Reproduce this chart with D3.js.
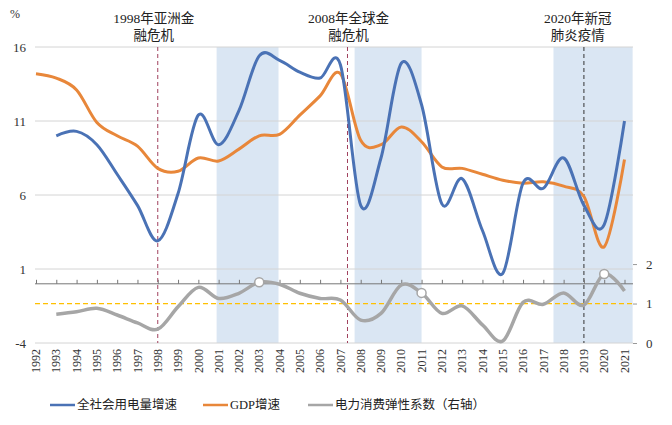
<!DOCTYPE html>
<html><head><meta charset="utf-8">
<script src="https://cdn.jsdelivr.net/npm/d3@7"></script>
<style>html,body{margin:0;padding:0;background:#fff;}svg{display:block;}</style>
</head><body>
<svg id="chart" width="672" height="425"></svg>
<script>
const years = [1992,1993,1994,1995,1996,1997,1998,1999,2000,2001,2002,2003,2004,2005,2006,2007,2008,2009,2010,2011,2012,2013,2014,2015,2016,2017,2018,2019,2020,2021];
const yearLabels = years.map(String);
const electricityGrowth = [null,10.0,10.3,9.4,7.4,5.3,2.9,6.1,11.4,9.4,11.7,15.4,15.1,14.3,13.9,14.8,5.3,8.5,14.9,12.1,5.4,7.1,3.6,0.7,6.8,6.45,8.5,5.3,4.0,11.0];
const gdpGrowth = [14.2,13.9,13.1,10.9,10.0,9.3,7.8,7.6,8.5,8.3,9.1,10.0,10.1,11.4,12.7,14.2,9.7,9.4,10.6,9.6,7.9,7.8,7.4,7.0,6.8,6.9,6.6,5.9,2.5,8.4];
const elasticity = [null,0.73,0.79,0.88,0.71,0.51,0.35,0.92,1.41,1.13,1.26,1.54,1.49,1.26,1.13,1.09,0.58,0.75,1.47,1.27,0.75,0.94,0.46,0.05,1.03,0.98,1.27,0.96,1.75,1.32];
const markerYears = [2003,2011,2020];
const bands = [[2000.9,2003.95],[2007.7,2011],[2017.5,2021.4]];
const crisisLines = [{year:1998,color:"#A0405E"},{year:2007.35,color:"#A0405E"},{year:2019,color:"#333333"}];
const annotations = [
  {x:1997.8, lines:["1998年亚洲金","融危机"]},
  {x:2007.4, lines:["2008年全球金","融危机"]},
  {x:2018.7, lines:["2020年新冠","肺炎疫情"]}
];
const leftTicks = [16,11,6,1,-4];
const rightTicks = [0,1,2];
const legendItems = [
  {label:"全社会用电量增速", color:"#4A72B5", x:50},
  {label:"GDP增速", color:"#E8873A", x:203},
  {label:"电力消费弹性系数（右轴）", color:"#A6A6A6", x:308}
];

const svg = d3.select("#chart");
const L = 35, R = 633, T = 47, B = 343;
const x = d3.scaleLinear().domain([1992,2021]).range([36,624.5]);
const yL = d3.scaleLinear().domain([-4,16]).range([B,T]);
const yR = d3.scaleLinear().domain([0,7.5]).range([B,T]);
const serif = "'Liberation Serif','Times New Roman','Noto Sans CJK SC',serif";

// bands
svg.append("g").selectAll("rect").data(bands).join("rect")
  .attr("x", d => x(d[0])).attr("width", d => Math.min(R, x(d[1])) - x(d[0]))
  .attr("y", T).attr("height", B - T).attr("fill", "#DAE6F3");

// gridlines
svg.append("g").selectAll("line").data(leftTicks).join("line")
  .attr("x1", L).attr("x2", R).attr("y1", d => yL(d)).attr("y2", d => yL(d))
  .attr("stroke", "#D4D4D4").attr("stroke-width", 1);

// left labels
svg.append("g").selectAll("text").data(leftTicks).join("text")
  .attr("x", 26).attr("y", d => yL(d)).attr("dy", "0.35em")
  .attr("text-anchor", "end").attr("font-family", serif).attr("font-size", 13).attr("fill", "#333")
  .text(d => d);
svg.append("text").attr("x", 15).attr("y", 14).attr("dy","0.35em").attr("text-anchor","middle")
  .attr("font-family", serif).attr("font-size", 12).attr("fill","#333").text("%");

// right axis
const rAxis = svg.append("g").attr("transform", `translate(${R},0)`)
  .call(d3.axisRight(yR).tickValues(rightTicks).tickSize(4).tickPadding(9).tickFormat(d3.format("d")));
rAxis.select(".domain").remove();
rAxis.selectAll("line").attr("stroke", "#999");
rAxis.selectAll("text").attr("font-family", serif).attr("font-size", 13).attr("fill", "#333");

// crisis dashed lines
svg.append("g").selectAll("line").data(crisisLines).join("line")
  .attr("x1", d => x(d.year)).attr("x2", d => x(d.year)).attr("y1", T).attr("y2", B)
  .attr("stroke", d => d.color).attr("stroke-width", 1).attr("stroke-dasharray", "4,3");

// x axis line at 0 with ticks
const xAxis = svg.append("g").attr("transform", `translate(0,${yL(0)})`)
  .call(d3.axisTop(x).tickValues(years).tickSize(4).tickFormat(""));
xAxis.select(".domain").attr("d", `M${L},0H${R}`).attr("stroke", "#777");
xAxis.selectAll("line").attr("stroke", "#777");

// x labels at bottom
svg.append("g").selectAll("text").data(years).join("text")
  .attr("transform", d => `translate(${x(d)},349) rotate(-90)`)
  .attr("dy", "0.35em").attr("text-anchor", "end")
  .attr("font-family", serif).attr("font-size", 12).attr("fill", "#333")
  .text((d,i) => yearLabels[i]);

// yellow reference line (elasticity = 1)
svg.append("line").attr("x1", L).attr("x2", R).attr("y1", yR(1)).attr("y2", yR(1))
  .attr("stroke", "#FFC000").attr("stroke-width", 1.3).attr("stroke-dasharray", "5,3");

const curve = d3.curveCardinal.tension(0);
const lineL = d3.line().defined(d => d[1] != null).x(d => x(d[0])).y(d => yL(d[1])).curve(curve);
const lineR = d3.line().defined(d => d[1] != null).x(d => x(d[0])).y(d => yR(d[1])).curve(curve);
const zip = arr => years.map((yr,i) => [yr, arr[i]]).filter(d => d[1] != null);

svg.append("path").attr("d", lineR(zip(elasticity))).attr("fill","none")
  .attr("stroke","#A6A6A6").attr("stroke-width",3.5).attr("stroke-linejoin","round");
svg.append("path").attr("d", lineL(zip(gdpGrowth))).attr("fill","none")
  .attr("stroke","#E8873A").attr("stroke-width",3).attr("stroke-linejoin","round");
svg.append("path").attr("d", lineL(zip(electricityGrowth))).attr("fill","none")
  .attr("stroke","#4A72B5").attr("stroke-width",3).attr("stroke-linejoin","round");

// markers on elasticity
svg.append("g").selectAll("circle").data(markerYears).join("circle")
  .attr("cx", d => x(d)).attr("cy", d => yR(elasticity[years.indexOf(d)]))
  .attr("r", 4.5).attr("fill", "#fff").attr("stroke", "#A6A6A6").attr("stroke-width", 1.5);

// annotations
const ann = svg.append("g");
annotations.forEach(a => {
  a.lines.forEach((t,i) => {
    ann.append("text").attr("x", x(a.x)).attr("y", 18 + i*17).attr("dy","0.35em")
      .attr("text-anchor","middle").attr("font-family", serif).attr("font-size", 13.5).attr("fill","#222")
      .text(t);
  });
});

// legend
const lg = svg.append("g");
legendItems.forEach(it => {
  lg.append("line").attr("x1", it.x).attr("x2", it.x + 25).attr("y1", 405).attr("y2", 405)
    .attr("stroke", it.color).attr("stroke-width", 2.5);
  lg.append("text").attr("x", it.x + 27).attr("y", 405).attr("dy","0.35em")
    .attr("font-family", serif).attr("font-size", 12.5).attr("fill","#222").text(it.label);
});
</script>
</body></html>
